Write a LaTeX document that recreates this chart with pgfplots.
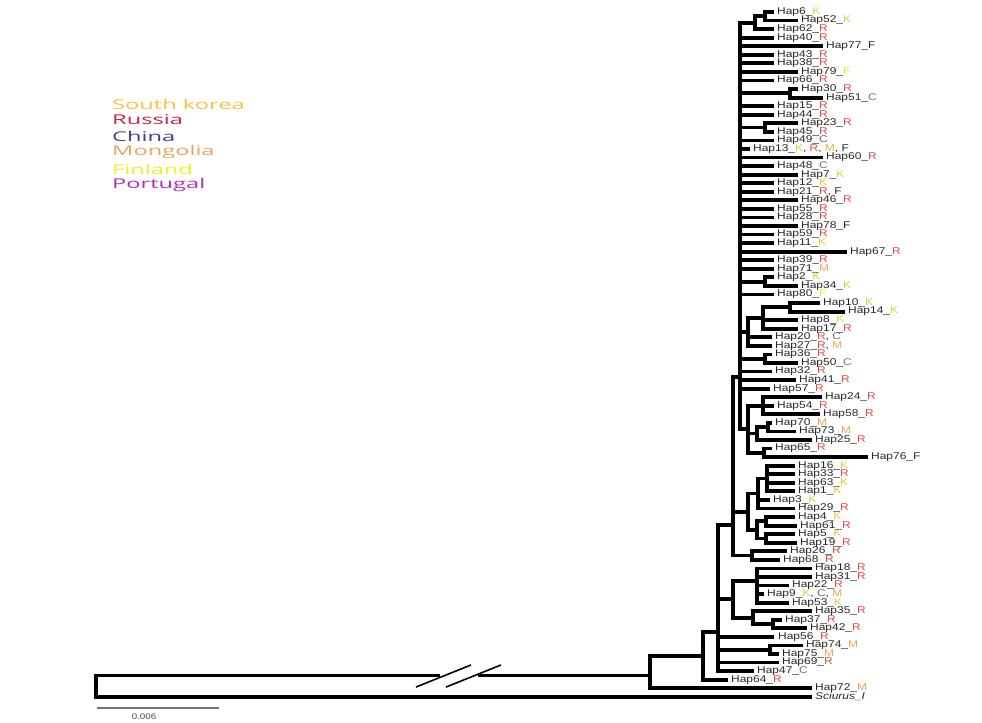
\documentclass[border=0pt]{standalone}
\usepackage{pgfplots}
\pgfplotsset{compat=1.18}
\usepackage{fontspec}
\setmainfont{Liberation Sans}
\newfontfamily\labfont[FakeStretch=1.22]{Liberation Sans}
\newfontfamily\legfont[FakeStretch=1.75]{Open Sans}
\definecolor{cK}{HTML}{E2CC30}
\definecolor{cR}{HTML}{E04848}
\definecolor{cC}{HTML}{707070}
\definecolor{cM}{HTML}{E8A850}
\definecolor{cF}{HTML}{E8E030}
\definecolor{lK}{HTML}{F2C443}
\definecolor{lR}{HTML}{D3203A}
\definecolor{lC}{HTML}{4A3A8E}
\definecolor{lM}{HTML}{E9A464}
\definecolor{lF}{HTML}{F3EE1F}
\definecolor{lP}{HTML}{B22CBF}
\tikzset{br/.style={black,line width=3.8pt,line cap=rect,mark=none},
  lab/.style={anchor=west,inner sep=0pt,xshift=5pt,text=black!85,font=\labfont\fontsize{9.8}{10}\selectfont},
  leg/.style={anchor=west,inner sep=0pt,font=\legfont\fontsize{13.5}{14}\selectfont}}
\newcommand{\seg}[4]{\addplot[br] coordinates {(#1,#2) (#3,#4)};}
\newcommand{\hl}[3]{\node[lab] at (axis cs:#2,#1) {#3};}
\newcommand{\K}{\textcolor{cK}{K}}
\newcommand{\R}{\textcolor{cR}{R}}
\newcommand{\C}{\textcolor{cC}{C}}
\newcommand{\M}{\textcolor{cM}{M}}
\newcommand{\Fy}{\textcolor{cF}{F}}
\begin{document}
\begin{tikzpicture}
\begin{axis}[width=982pt,height=722pt,scale only axis,xmin=0,xmax=982,
  ymin=-0.4019,ymax=83.944,y dir=reverse,hide axis,clip=false]
\path (rel axis cs:0,0) rectangle (rel axis cs:1,1);
% ---- top comb P
\seg{740}{2.25}{740}{49.75}
\seg{740}{2.25}{755}{2.25}
\seg{755}{1.5}{755}{3}
\seg{755}{1.5}{765}{1.5}
\seg{765}{1}{765}{2}
\seg{765}{1}{772}{1}
\seg{765}{2}{796}{2}
\seg{755}{3}{772}{3}
\seg{740}{4}{772}{4}
\seg{740}{5}{821}{5}
\seg{740}{6}{772}{6}
\seg{740}{7}{772}{7}
\seg{740}{8}{796}{8}
\seg{740}{9}{772}{9}
\seg{740}{10.5}{790}{10.5}
\seg{790}{10}{790}{11}
\seg{790}{10}{796}{10}
\seg{790}{11}{821}{11}
\seg{740}{12}{772}{12}
\seg{740}{13}{772}{13}
\seg{740}{14.5}{765}{14.5}
\seg{765}{14}{765}{15}
\seg{765}{14}{796}{14}
\seg{765}{15}{772}{15}
\seg{740}{16}{772}{16}
\seg{740}{17}{748}{17}
\seg{740}{18}{821}{18}
\seg{740}{19}{772}{19}
\seg{740}{20}{796}{20}
\seg{740}{21}{772}{21}
\seg{740}{22}{772}{22}
\seg{740}{23}{796}{23}
\seg{740}{24}{772}{24}
\seg{740}{25}{772}{25}
\seg{740}{26}{796}{26}
\seg{740}{27}{772}{27}
\seg{740}{28}{772}{28}
\seg{740}{29}{845}{29}
\seg{740}{30}{772}{30}
\seg{740}{31}{772}{31}
\seg{740}{32.5}{765}{32.5}
\seg{765}{32}{765}{33}
\seg{765}{32}{772}{32}
\seg{765}{33}{796}{33}
\seg{740}{34}{772}{34}
\seg{740}{38.4}{748}{38.4}
\seg{748}{36.75}{748}{40}
\seg{748}{36.75}{763}{36.75}
\seg{763}{35.5}{763}{38}
\seg{763}{35.5}{790}{35.5}
\seg{790}{35}{790}{36}
\seg{790}{35}{818}{35}
\seg{790}{36}{843}{36}
\seg{763}{37}{796}{37}
\seg{763}{38}{796}{38}
\seg{748}{39}{770}{39}
\seg{748}{40}{770}{40}
\seg{740}{41.5}{765}{41.5}
\seg{765}{41}{765}{42}
\seg{765}{41}{770}{41}
\seg{765}{42}{796}{42}
\seg{740}{43}{770}{43}
\seg{740}{44}{794}{44}
\seg{740}{45}{768}{45}
\seg{740}{49.75}{748}{49.75}
\seg{748}{47}{748}{52.5}
\seg{748}{47}{763}{47}
\seg{763}{46}{763}{48}
\seg{763}{46}{820}{46}
\seg{763}{47}{772}{47}
\seg{763}{48}{818}{48}
\seg{748}{50.25}{757}{50.25}
\seg{757}{49.5}{757}{51}
\seg{757}{49.5}{768}{49.5}
\seg{768}{49}{768}{50}
\seg{768}{49}{770}{49}
\seg{768}{50}{794}{50}
\seg{757}{51}{810}{51}
\seg{748}{52.5}{764}{52.5}
\seg{764}{52}{764}{53}
\seg{764}{52}{770}{52}
\seg{764}{53}{866}{53}
% ---- G
\seg{733}{43.6}{740}{43.6}
\seg{733}{43.6}{733}{64.5}
\seg{733}{59.4}{748}{59.4}
\seg{748}{57.25}{748}{61.5}
\seg{748}{57.25}{758}{57.25}
\seg{758}{55.5}{758}{59}
\seg{758}{55.5}{767}{55.5}
\seg{767}{54}{767}{57}
\seg{767}{54}{793}{54}
\seg{767}{55}{793}{55}
\seg{767}{56}{793}{56}
\seg{767}{57}{793}{57}
\seg{758}{58}{768}{58}
\seg{758}{59}{793}{59}
\seg{748}{61.5}{757}{61.5}
\seg{757}{60.5}{757}{62.5}
\seg{757}{60.5}{766}{60.5}
\seg{766}{60}{766}{61}
\seg{766}{60}{793}{60}
\seg{766}{61}{795}{61}
\seg{757}{62.5}{766}{62.5}
\seg{766}{62}{766}{63}
\seg{766}{62}{793}{62}
\seg{766}{63}{795}{63}
\seg{733}{64.5}{752}{64.5}
\seg{752}{64}{752}{65}
\seg{752}{64}{785}{64}
\seg{752}{65}{778}{65}
% ---- K
\seg{718}{60.9}{733}{60.9}
\seg{718}{60.9}{718}{78}
\seg{718}{69.6}{733}{69.6}
\seg{733}{67.5}{733}{71.75}
\seg{733}{67.5}{757}{67.5}
\seg{757}{66}{757}{70}
\seg{757}{66}{810}{66}
\seg{757}{67}{810}{67}
\seg{757}{68}{787}{68}
\seg{757}{69}{762}{69}
\seg{757}{70}{787}{70}
\seg{733}{71.75}{753}{71.75}
\seg{753}{71}{753}{72.5}
\seg{753}{71}{810}{71}
\seg{753}{72.5}{773}{72.5}
\seg{773}{72}{773}{73}
\seg{773}{72}{780}{72}
\seg{773}{73}{805}{73}
\seg{718}{74}{772}{74}
\seg{718}{75.5}{770}{75.5}
\seg{770}{75}{770}{76}
\seg{770}{75}{801}{75}
\seg{770}{76}{777}{76}
\seg{718}{77}{777}{77}
\seg{718}{78}{752}{78}
% ---- B, A, root
\seg{703}{73.43}{718}{73.43}
\seg{703}{73.43}{703}{79}
\seg{703}{79}{726}{79}
\seg{650}{76.2}{703}{76.2}
\seg{650}{76.2}{650}{80}
\seg{650}{80}{810}{80}
\seg{480}{78.5}{650}{78.5}
\seg{96}{78.5}{438}{78.5}
\seg{96}{78.5}{96}{81}
\seg{96}{81}{810}{81}
% break marks
\addplot[black,line width=1.6pt] coordinates {(416,79.86) (471,77.28)};
\addplot[black,line width=1.6pt] coordinates {(446,79.86) (501,77.28)};
% scale bar
\addplot[black!55,line width=1.3pt] coordinates {(97,82.31) (219,82.31)};
\node[inner sep=0pt,text=black!70,font=\labfont\fontsize{8}{9}\selectfont] at (axis cs:144,83.3) {0.006};
% legend
\node[leg,text=lK] at (axis cs:112,11.75) {South korea};
\node[leg,text=lR] at (axis cs:112,13.62) {Russia};
\node[leg,text=lC] at (axis cs:112,15.49) {China};
\node[leg,text=lM] at (axis cs:112,17.36) {Mongolia};
\node[leg,text=lF] at (axis cs:112,19.34) {Finland};
\node[leg,text=lP] at (axis cs:112,21.21) {Portugal};
% labels
\hl{1}{772}{Hap6\_\K}
\hl{2}{796}{Hap52\_\K}
\hl{3}{772}{Hap62\_\R}
\hl{4}{772}{Hap40\_\R}
\hl{5}{821}{Hap77\_F}
\hl{6}{772}{Hap43\_\R}
\hl{7}{772}{Hap38\_\R}
\hl{8}{796}{Hap79\_\Fy}
\hl{9}{772}{Hap66\_\R}
\hl{10}{796}{Hap30\_\R}
\hl{11}{821}{Hap51\_\C}
\hl{12}{772}{Hap15\_\R}
\hl{13}{772}{Hap44\_\R}
\hl{14}{796}{Hap23\_\R}
\hl{15}{772}{Hap45\_\R}
\hl{16}{772}{Hap49\_\C}
\hl{17}{748}{Hap13\_\K, \R, \M, F}
\hl{18}{821}{Hap60\_\R}
\hl{19}{772}{Hap48\_\C}
\hl{20}{796}{Hap7\_\K}
\hl{21}{772}{Hap12\_\K}
\hl{22}{772}{Hap21\_\R, F}
\hl{23}{796}{Hap46\_\R}
\hl{24}{772}{Hap55\_\R}
\hl{25}{772}{Hap28\_\R}
\hl{26}{796}{Hap78\_F}
\hl{27}{772}{Hap59\_\R}
\hl{28}{772}{Hap11\_\K}
\hl{29}{845}{Hap67\_\R}
\hl{30}{772}{Hap39\_\R}
\hl{31}{772}{Hap71\_\M}
\hl{32}{772}{Hap2\_\K}
\hl{33}{796}{Hap34\_\K}
\hl{34}{772}{Hap80\_\Fy}
\hl{35}{818}{Hap10\_\K}
\hl{36}{843}{Hap14\_\K}
\hl{37}{796}{Hap8\_\K}
\hl{38}{796}{Hap17\_\R}
\hl{39}{770}{Hap20\_\R, \C}
\hl{40}{770}{Hap27\_\R, \M}
\hl{41}{770}{Hap36\_\R}
\hl{42}{796}{Hap50\_\C}
\hl{43}{770}{Hap32\_\R}
\hl{44}{794}{Hap41\_\R}
\hl{45}{768}{Hap57\_\R}
\hl{46}{820}{Hap24\_\R}
\hl{47}{772}{Hap54\_\R}
\hl{48}{818}{Hap58\_\R}
\hl{49}{770}{Hap70\_\M}
\hl{50}{794}{Hap73\_\M}
\hl{51}{810}{Hap25\_\R}
\hl{52}{770}{Hap65\_\R}
\hl{53}{866}{Hap76\_F}
\hl{54}{793}{Hap16\_\K}
\hl{55}{793}{Hap33\_\R}
\hl{56}{793}{Hap63\_\K}
\hl{57}{793}{Hap1\_\K}
\hl{58}{768}{Hap3\_\K}
\hl{59}{793}{Hap29\_\R}
\hl{60}{793}{Hap4\_\K}
\hl{61}{795}{Hap61\_\R}
\hl{62}{793}{Hap5\_\K}
\hl{63}{795}{Hap19\_\R}
\hl{64}{785}{Hap26\_\R}
\hl{65}{778}{Hap68\_\R}
\hl{66}{810}{Hap18\_\R}
\hl{67}{810}{Hap31\_\R}
\hl{68}{787}{Hap22\_\R}
\hl{69}{762}{Hap9\_\K, \C, \M}
\hl{70}{787}{Hap53\_\K}
\hl{71}{810}{Hap35\_\R}
\hl{72}{780}{Hap37\_\R}
\hl{73}{805}{Hap42\_\R}
\hl{74}{773}{Hap56\_\R}
\hl{75}{801}{Hap74\_\M}
\hl{76}{777}{Hap75\_\M}
\hl{77}{777}{Hap69\_\R}
\hl{78}{752}{Hap47\_\C}
\hl{79}{726}{Hap64\_\R}
\hl{80}{810}{Hap72\_\M}
\hl{81}{810}{\textit{Sciurus\_I}}
\end{axis}
\end{tikzpicture}
\end{document}
